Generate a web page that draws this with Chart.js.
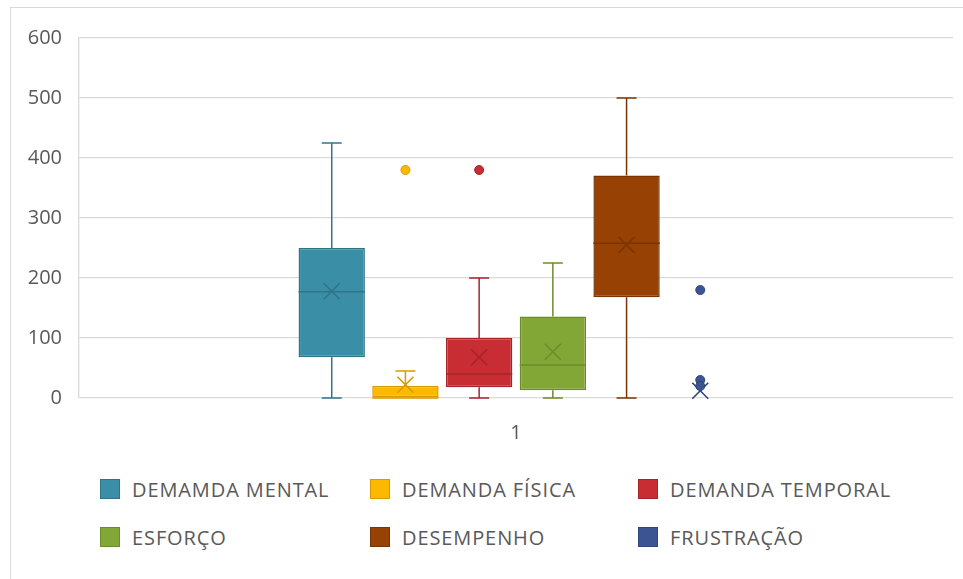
<!DOCTYPE html>
<html>
<head>
<meta charset="utf-8">
<script src="https://cdn.jsdelivr.net/npm/chart.js@4.4.1/dist/chart.umd.min.js"></script>
<style>
  html, body { margin:0; padding:0; background:#fff; }
  body { width:963px; height:579px; position:relative; overflow:hidden; font-family:'Open Sans', sans-serif; }
  #frame { position:absolute; left:10px; top:7px; width:1000px; height:600px; border-left:1px solid #d9d9d9; border-top:1px solid #d9d9d9; }
  #chart { position:absolute; left:0; top:0; }
  .lg-item { position:absolute; display:flex; align-items:center; height:24px; color:#595959; font-size:20px; letter-spacing:0.9px; white-space:nowrap; }
  .lg-box { width:20px; height:20px; margin-right:12px; box-sizing:border-box; border:1px solid; }
</style>
</head>
<body>
<div id="frame"></div>
<canvas id="chart" width="963" height="460"></canvas>
<div id="legend"></div>
<script>
/* box plot: floating bars for the boxes, whiskers/median/mean/outliers drawn on the same scales */

const categories  = ['1'];
const seriesNames = ['DEMAMDA MENTAL','DEMANDA FÍSICA','DEMANDA TEMPORAL','ESFORÇO','DESEMPENHO','FRUSTRAÇÃO'];
const minVals     = [0,   0,   0,   0,   0,   0];
const q1Vals      = [68,  0,   18,  13,  168, 0];
const medianVals  = [177, 0,   40,  55,  258, 0];
const q3Vals      = [250, 20,  100, 136, 371, 0];
const maxVals     = [425, 45,  200, 225, 500, 0];
const meanVals    = [178, 22,  68,  77,  255, 12];
const outliers    = [[], [380], [380], [], [], [180, 30, 20]];
const yTicks      = [0, 100, 200, 300, 400, 500, 600];

const fills   = ['#3a8fa6','#ffb800','#c72d32','#83a737','#974104','#3c5592'];
const borders = ['#2e7489','#d99a00','#a5242a','#6b8c2a','#7a3403','#2f4478'];

const boxExtras = {
  id: 'boxExtras',
  afterDatasetsDraw(chart) {
    const ctx = chart.ctx, y = chart.scales.y;
    chart.data.datasets.forEach((ds, i) => {
      const bar = chart.getDatasetMeta(i).data[0];
      if (!bar) return;
      const x = bar.x, half = bar.width / 2, cap = 10;
      const col = borders[i];
      ctx.save();
      ctx.strokeStyle = col;
      ctx.lineWidth = 1.5;
      // whiskers
      const seg = (a, b) => {
        if (a === b) return;
        ctx.beginPath(); ctx.moveTo(x, y.getPixelForValue(a)); ctx.lineTo(x, y.getPixelForValue(b)); ctx.stroke();
        const yp = y.getPixelForValue(b);
        ctx.beginPath(); ctx.moveTo(x - cap, yp); ctx.lineTo(x + cap, yp); ctx.stroke();
      };
      seg(q3Vals[i], maxVals[i]);
      seg(q1Vals[i], minVals[i]);
      // median
      if (q3Vals[i] > q1Vals[i]) {
        const ym = y.getPixelForValue(medianVals[i]);
        ctx.beginPath(); ctx.moveTo(x - half, ym); ctx.lineTo(x + half, ym); ctx.stroke();
      }
      // mean (x marker)
      const ya = y.getPixelForValue(meanVals[i]), s = 8;
      ctx.lineWidth = 1.6;
      ctx.beginPath();
      ctx.moveTo(x - s, ya - s); ctx.lineTo(x + s, ya + s);
      ctx.moveTo(x + s, ya - s); ctx.lineTo(x - s, ya + s);
      ctx.stroke();
      // outliers
      outliers[i].forEach(v => {
        ctx.beginPath();
        ctx.arc(x, y.getPixelForValue(v), 4.5, 0, Math.PI * 2);
        ctx.fillStyle = fills[i]; ctx.fill();
        ctx.lineWidth = 1; ctx.strokeStyle = col; ctx.stroke();
      });
      ctx.restore();
    });
  }
};

const datasets = seriesNames.map((name, i) => ({
  label: name,
  data: [[q1Vals[i], q3Vals[i]]],
  backgroundColor: fills[i],
  borderColor: q3Vals[i] > q1Vals[i] ? borders[i] : 'rgba(60,85,146,0.35)',
  borderWidth: q3Vals[i] > q1Vals[i] ? 1.5 : 1,
  borderSkipped: false
}));

new Chart(document.getElementById('chart'), {
  type: 'bar',
  data: { labels: categories, datasets },
  options: {
    responsive: false,
    animation: false,
    categoryPercentage: 0.506,
    barPercentage: 0.9,
    layout: { padding: { top: 38, right: 10, left: 0, bottom: 0 } },
    plugins: { legend: { display: false }, tooltip: { enabled: false } },
    scales: {
      x: {
        grid: { display: false, drawTicks: false },
        border: { display: false },
        ticks: { color: '#595959', font: { family: 'Open Sans', size: 20 }, padding: 23 },
        afterFit: s => { s.height = 62; }
      },
      y: {
        min: 0, max: 600,
        afterBuildTicks: s => { s.ticks = yTicks.map(v => ({ value: v })); },
        grid: { color: '#d9d9d9', lineWidth: 1.3, drawTicks: false },
        border: { display: true, color: '#d9d9d9', width: 1.3 },
        ticks: { color: '#595959', font: { family: 'Open Sans', size: 20 }, padding: 17 },
        afterFit: s => { s.width = 79; }
      }
    }
  },
  plugins: [boxExtras]
});

// legend, three columns by two rows
const legendCols = [100, 370, 638];
const legendRows = [489, 537];
const legend = document.getElementById('legend');
seriesNames.forEach((name, i) => {
  const item = document.createElement('div');
  item.className = 'lg-item';
  item.style.left = legendCols[i % 3] + 'px';
  item.style.top = (legendRows[Math.floor(i / 3)] - 12) + 'px';
  item.innerHTML = `<span class="lg-box" style="background:${fills[i]};border-color:${borders[i]}"></span><span>${name}</span>`;
  legend.appendChild(item);
});
</script>
</body>
</html>
